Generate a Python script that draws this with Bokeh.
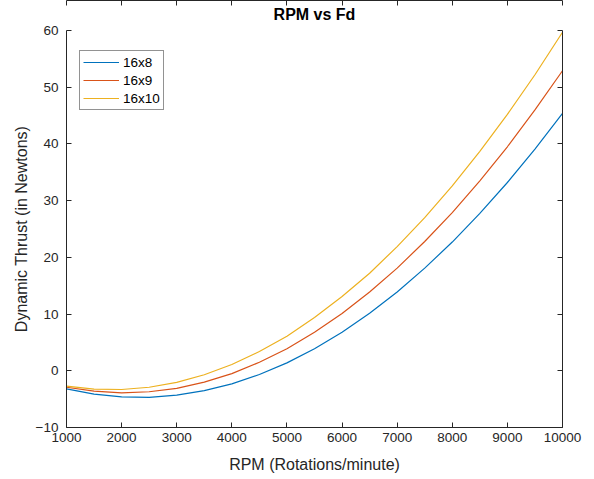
from bokeh.plotting import figure
from bokeh.models import LinearAxis, FixedTicker, Legend, LegendItem, Title, CustomJSTickFormatter
from bokeh.embed import file_html
from bokeh.resources import INLINE

# ---- data ----
rpm = [1000, 1500, 2000, 2500, 3000, 3500, 4000, 4500, 5000, 5500,
       6000, 6500, 7000, 7500, 8000, 8500, 9000, 9500, 10000]
fd_16x8 = [-3.2, -4.1, -4.6, -4.7, -4.3, -3.5, -2.3, -0.65, 1.4, 3.9,
           6.8, 10.15, 13.9, 18.1, 22.7, 27.75, 33.2, 39.1, 45.4]
fd_16x9 = [-2.9, -3.6, -3.9, -3.7, -3.1, -2.0, -0.5, 1.5, 3.9, 6.8,
           10.1, 13.9, 18.1, 22.8, 27.9, 33.5, 39.5, 46.0, 52.9]
fd_16x10 = [-2.7, -3.25, -3.3, -2.9, -2.05, -0.7, 1.1, 3.4, 6.1, 9.4,
            13.1, 17.2, 21.9, 27.0, 32.6, 38.7, 45.2, 52.2, 59.7]
series_names = ["16x8", "16x9", "16x10"]
series_colors = ["#0072BD", "#D95319", "#EDB120"]
x_ticks = [1000, 2000, 3000, 4000, 5000, 6000, 7000, 8000, 9000, 10000]
y_ticks = [-10, 0, 10, 20, 30, 40, 50, 60]

FONT = "Liberation Sans"
AX = "#262626"

p = figure(frame_width=496, frame_height=397,
           x_range=(1000, 10000), y_range=(-10, 60),
           output_backend="svg", toolbar_location=None,
           min_border_left=66, min_border_right=24,
           min_border_top=30, min_border_bottom=44,
           background_fill_color="white", border_fill_color="white")
p.outline_line_color = None
p.xgrid.visible = False
p.ygrid.visible = False

p.add_layout(Title(text="RPM vs Fd", align="center", text_font=FONT,
                   text_font_size="16px", text_font_style="bold",
                   vertical_align="top",
                   text_color="black", standoff=11), "above")

blank = CustomJSTickFormatter(code="return '';")

def style_axis(ax, labels=True):
    ax.axis_line_color = AX
    ax.axis_line_width = 1
    ax.major_tick_line_color = AX
    ax.major_tick_in = 5
    ax.major_tick_out = 0
    ax.minor_tick_line_color = None
    ax.major_label_text_font = FONT
    ax.major_label_text_color = AX
    ax.major_label_text_font_size = "13.5px"
    if not labels:
        ax.formatter = blank
        ax.major_label_standoff = 0

xa = p.xaxis[0]
xa.ticker = FixedTicker(ticks=x_ticks)
style_axis(xa)
xa.major_label_standoff = 5
xa.axis_label = "RPM (Rotations/minute)"
xa.axis_label_text_font = FONT
xa.axis_label_text_font_size = "16px"
xa.axis_label_text_font_style = "normal"
xa.axis_label_text_color = AX
xa.axis_label_standoff = 11

ya = p.yaxis[0]
ya.ticker = FixedTicker(ticks=y_ticks)
style_axis(ya)
ya.major_label_standoff = 8
ya.axis_label = "Dynamic Thrust (in Newtons)"
ya.axis_label_text_font = FONT
ya.axis_label_text_font_size = "16px"
ya.axis_label_text_font_style = "normal"
ya.axis_label_text_color = AX
ya.axis_label_standoff = 3

top = LinearAxis(ticker=FixedTicker(ticks=x_ticks))
style_axis(top, labels=False)
p.add_layout(top, "above")
right = LinearAxis(ticker=FixedTicker(ticks=y_ticks))
style_axis(right, labels=False)
p.add_layout(right, "right")

items = []
for name, col, ys in zip(series_names, series_colors, [fd_16x8, fd_16x9, fd_16x10]):
    r = p.line(rpm, ys, line_color=col, line_width=1.2)
    items.append(LegendItem(label=name, renderers=[r]))

leg = Legend(items=items, location=(13, 317), margin=0,
             label_text_font=FONT, label_text_font_size="13.5px",
             label_text_color="black", glyph_width=36, glyph_height=16,
             label_height=16, spacing=2, padding=3, label_standoff=4,
             border_line_color=AX, border_line_width=1,
             background_fill_color="white", background_fill_alpha=1)
p.add_layout(leg, "center")

open("out.html", "w").write(file_html(p, INLINE))
